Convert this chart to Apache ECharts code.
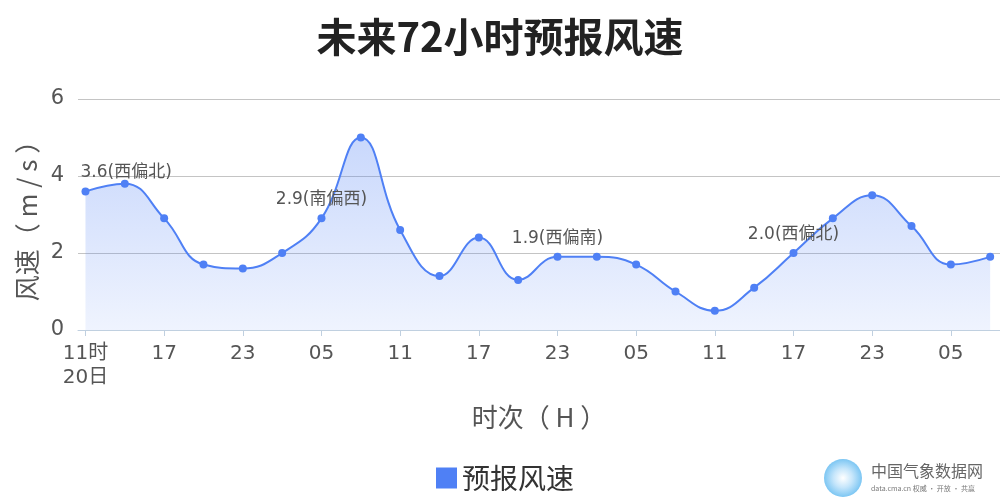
<!DOCTYPE html>
<html>
<head>
<meta charset="utf-8">
<script src="https://cdn.jsdelivr.net/npm/echarts@6/dist/echarts.min.js"></script>
<style>
html,body{margin:0;padding:0;background:#fff;}
#main{width:1000px;height:500px;}
</style>
</head>
<body>
<div id="main"></div>
<script>
// ---- data ----
var titleText = '未来72小时预报风速';
var seriesName = '预报风速';
var hours = ['11','14','17','20','23','02','05','08','11','14','17','20','23','02','05','08','11','14','17','20','23','02','05','08'];
var windSpeed = [3.6, 3.8, 2.9, 1.7, 1.6, 2.0, 2.9, 5.0, 2.6, 1.4, 2.4, 1.3, 1.9, 1.9, 1.7, 1.0, 0.5, 1.1, 2.0, 2.9, 3.5, 2.7, 1.7, 1.9];
var labelIndex = [0, 6, 12, 18];
var labelDir = ['西偏北', '南偏西', '西偏南', '西偏北'];
var firstLabel = '11时\n20日';
var yName = '风速（ m / s ）';
var xName = '时次（ H ）';
var yTicks = [0, 2, 4, 6];

var FONT = 'DejaVu Sans, Noto Sans CJK SC, sans-serif';
var CJK = 'Noto Sans CJK SC, sans-serif';
var LINE = '#4f80f5';

var chart = echarts.init(document.getElementById('main'), null, {renderer: 'canvas'});

var tickVals = [];
for (var i = 0; i < hours.length; i += 2) tickVals.push(i);

var seriesData = windSpeed.map(function (v, i) {
  var item = {value: [i, v]};
  var k = labelIndex.indexOf(i);
  if (k >= 0) {
    item.label = {
      show: true,
      position: 'top',
      distance: 6,
      formatter: v.toFixed(1) + '(' + labelDir[k] + ')',
      fontSize: 17,
      color: '#555',
      fontFamily: FONT
    };
    if (i === 0) { item.label.align = 'left'; item.label.offset = [-5, 0]; }
  }
  return item;
});

var option = {
  backgroundColor: '#fff',
  animation: false,
  title: {
    text: titleText,
    left: 'center',
    top: 12,
    textStyle: {fontSize: 40, fontWeight: 'bold', color: '#222', fontFamily: CJK}
  },
  legend: {
    data: [seriesName],
    left: 431,
    top: 459,
    icon: 'rect',
    itemWidth: 21,
    itemHeight: 21,
    itemGap: 4,
    textStyle: {fontSize: 28, color: '#333', fontFamily: CJK}
  },
  grid: {left: 78, right: 0, top: 99, bottom: 170, containLabel: false},
  xAxis: {
    type: 'value',
    min: -0.19,
    max: 23.25,
    name: xName,
    nameLocation: 'middle',
    nameGap: 74,
    nameTextStyle: {fontSize: 26, color: '#555', fontFamily: CJK},
    axisLine: {show: true, lineStyle: {color: '#c0d0e0', width: 1}},
    axisTick: {show: true, customValues: tickVals, length: 6, lineStyle: {color: '#c0d0e0'}},
    splitLine: {show: false},
    axisLabel: {
      customValues: tickVals,
      margin: 12,
      fontSize: 20,
      lineHeight: 24,
      color: '#555',
      fontFamily: FONT,
      formatter: function (val) {
        var idx = Math.round(val);
        return idx === 0 ? firstLabel : hours[idx];
      }
    }
  },
  yAxis: {
    type: 'value',
    min: 0,
    max: 6,
    interval: 2,
    name: yName,
    nameLocation: 'middle',
    nameGap: 33,
    nameTextStyle: {fontSize: 26, color: '#555', fontFamily: CJK},
    axisLine: {show: false},
    axisTick: {show: false},
    axisLabel: {fontSize: 21, color: '#555', margin: 14, fontFamily: FONT,
      formatter: function (v) { return yTicks.indexOf(v) >= 0 ? String(v) : ''; }},
    splitLine: {show: true, lineStyle: {color: '#c4c4c4', width: 1}}
  },
  series: [{
    name: seriesName,
    type: 'line',
    smooth: 0.45,
    data: seriesData,
    symbol: 'circle',
    symbolSize: 8,
    itemStyle: {color: LINE},
    lineStyle: {color: LINE, width: 2},
    areaStyle: {
      color: {
        type: 'linear', x: 0, y: 99, x2: 0, y2: 330, global: true,
        colorStops: [
          {offset: 0, color: 'rgba(79,128,245,0.5)'},
          {offset: 1, color: 'rgba(79,128,245,0.13)'}
        ]
      }
    },
    emphasis: {disabled: true}
  }],
  graphic: [
    {type: 'circle', shape: {cx: 843, cy: 478, r: 19},
     style: {fill: {type: 'radial', x: 0.5, y: 0.5, r: 0.5,
       colorStops: [{offset: 0, color: '#ffffff'}, {offset: 0.5, color: '#c6e6fb'}, {offset: 1, color: '#7cc6f3'}]}}},
    {type: 'text', left: 871, top: 463,
     style: {text: '中国气象数据网', fontSize: 16, fill: '#666', fontFamily: CJK}},
    {type: 'text', left: 871, top: 485,
     style: {text: 'data.cma.cn 权威 · 开放 · 共赢', fontSize: 7, fill: '#777', fontFamily: CJK}}
  ]
};

chart.setOption(option);
</script>
</body>
</html>
